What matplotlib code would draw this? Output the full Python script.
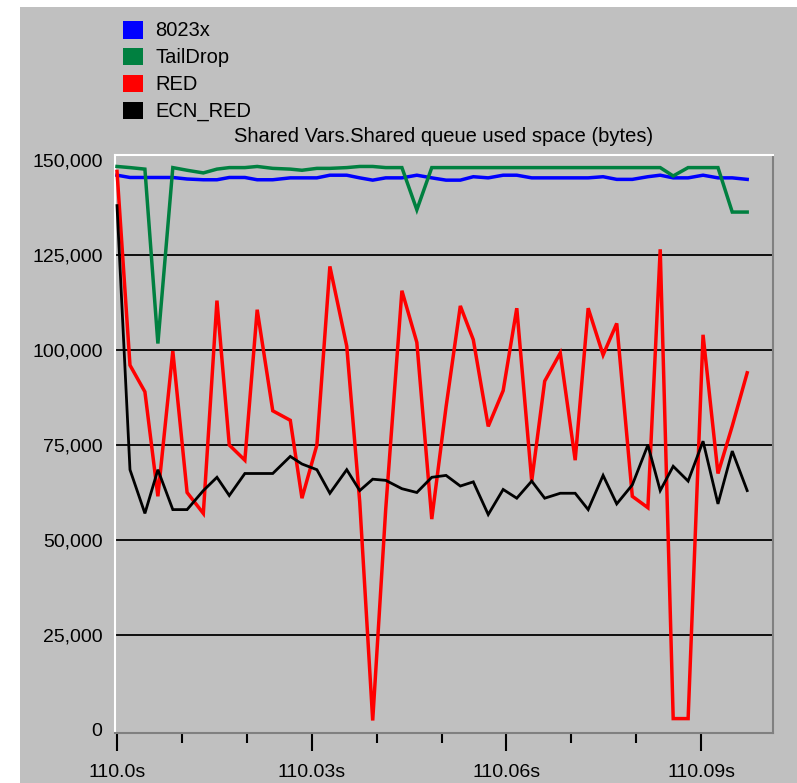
import numpy as np
import matplotlib.pyplot as plt
from matplotlib.patches import Rectangle
from matplotlib.ticker import FuncFormatter

# sample times, ms after 110.0 s
t_ms = [0.0, 2.0, 4.3, 6.3, 8.6, 10.8, 13.3, 15.4, 17.3, 19.7,
        21.6, 24.0, 26.7, 28.5, 30.8, 32.8, 35.4, 37.4, 39.4, 41.4,
        43.9, 46.2, 48.5, 50.7, 52.9, 54.9, 57.2, 59.5, 61.6, 63.9,
        65.9, 68.3, 70.6, 72.6, 74.9, 77.0, 79.4, 81.8, 83.7, 85.7,
        88.0, 90.3, 92.6, 94.8, 97.1]

# queue used space, bytes
q_8023x = [146000, 145400, 145400, 145400, 145400, 145000, 144800, 144800, 145400, 145400,
           144800, 144800, 145300, 145300, 145300, 146000, 146000, 145300, 144700, 145300,
           145300, 146000, 145300, 144700, 144700, 145600, 145300, 146000, 146000, 145300,
           145300, 145300, 145300, 145300, 145600, 144900, 144900, 145600, 146000, 145300,
           145300, 146000, 145300, 145300, 144900]
q_taildrop = [148300, 148000, 147600, 101700, 148000, 147300, 146600, 147600, 148000, 148000,
              148300, 147800, 147600, 147300, 147800, 147800, 148000, 148300, 148300, 148000,
              148000, 136900, 148000, 148000, 148000, 148000, 148000, 148000, 148000, 148000,
              148000, 148000, 148000, 148000, 148000, 148000, 148000, 148000, 148000, 145800,
              148000, 148000, 148000, 136300, 136300]
q_red = [147000, 96000, 89000, 61500, 99700, 62500, 57000, 113000, 75000, 71000,
         110600, 84000, 81500, 61000, 75000, 122000, 101000, 60000, 2500, 58000,
         115600, 102000, 55500, 85000, 111600, 102700, 79900, 89300, 111000, 65500,
         91800, 99200, 71000, 111000, 98700, 107000, 61500, 58500, 126500, 3000,
         3000, 104000, 67500, 80000, 94000]
q_ecn_red = [138000, 68500, 57000, 68500, 58000, 58000, 63000, 66500, 61700, 67500,
             67500, 67500, 72000, 70000, 68500, 62300, 68500, 63000, 66000, 65700,
             63500, 62500, 66500, 67000, 64200, 65300, 56700, 63300, 61000, 65500,
             61000, 62300, 62300, 58000, 67000, 59500, 64500, 75000, 63000, 69400,
             65500, 76000, 59500, 73400, 63000]

names = ['8023x', 'TailDrop', 'RED', 'ECN_RED']
colors = ['#0000FF', '#008040', '#FF0000', '#000000']
widths = [2.5, 2.5, 2.5, 2.0]

x_ticks = [110.0, 110.03, 110.06, 110.09]
x_labels = ['110.0s', '110.03s', '110.06s', '110.09s']
x_minor = [110.01, 110.02, 110.04, 110.05, 110.07, 110.08]
y_ticks = [0, 25000, 50000, 75000, 100000, 125000, 150000]

plt.rcParams['font.family'] = ['Liberation Sans', 'DejaVu Sans']
GRAY = '#C0C0C0'
W, H = 797, 783

fig = plt.figure(figsize=(W / 100, H / 100), dpi=100)
fig.patch.set_facecolor('white')
fig.patches.append(Rectangle((20 / W, 0), 777 / W, 776 / H, transform=fig.transFigure,
                             facecolor=GRAY, edgecolor='none', zorder=-10))

ax = fig.add_axes([115 / W, 50 / H, 658 / W, 578 / H])
ax.set_facecolor(GRAY)

time_s = 110.0 + np.array(t_ms) / 1000.0
series = [q_8023x, q_taildrop, q_red, q_ecn_red]
for vals, c, lw in zip(series, colors, widths):
    ax.plot(time_s, vals, color=c, lw=lw, zorder=3, solid_joinstyle='miter')

for v in y_ticks[1:-1]:
    ax.axhline(v, color='black', lw=1.3, zorder=2)

ax.set_xlim(110.0 - 2 / 6490, 110.0 + 656 / 6490)
ax.set_ylim(-790, 151316)

ax.set_xticks(x_ticks)
ax.set_xticklabels(x_labels)
ax.set_xticks(x_minor, minor=True)
ax.set_yticks(y_ticks)
ax.yaxis.set_major_formatter(FuncFormatter(lambda v, p: f'{int(v):,}'))
ax.tick_params(axis='x', which='major', length=13, width=1.5, direction='out',
               labelsize=14, pad=9, color='black')
ax.tick_params(axis='x', which='minor', length=7, width=1.5, direction='out', color='black')
ax.tick_params(axis='y', length=0, labelsize=14, pad=9)

for side in ['left', 'top']:
    ax.spines[side].set_color('white')
    ax.spines[side].set_linewidth(1.5)
for side in ['right', 'bottom']:
    ax.spines[side].set_color('#808080')
    ax.spines[side].set_linewidth(1.5)

ax.set_title('Shared Vars.Shared queue used space (bytes)', fontsize=14.5, pad=9)

# legend block, top left
for i, (n, c) in enumerate(zip(names, colors)):
    yc = 30 + i * 26.7
    fig.patches.append(Rectangle((123 / W, 1 - (yc + 8.5) / H), 20 / W, 17 / H,
                                 transform=fig.transFigure, facecolor=c,
                                 edgecolor='none', zorder=2))
    fig.text(155 / W, 1 - (yc + 1) / H, n, fontsize=14.5, va='center', ha='left')

fig.savefig('out.png', dpi=100, facecolor=fig.get_facecolor())
